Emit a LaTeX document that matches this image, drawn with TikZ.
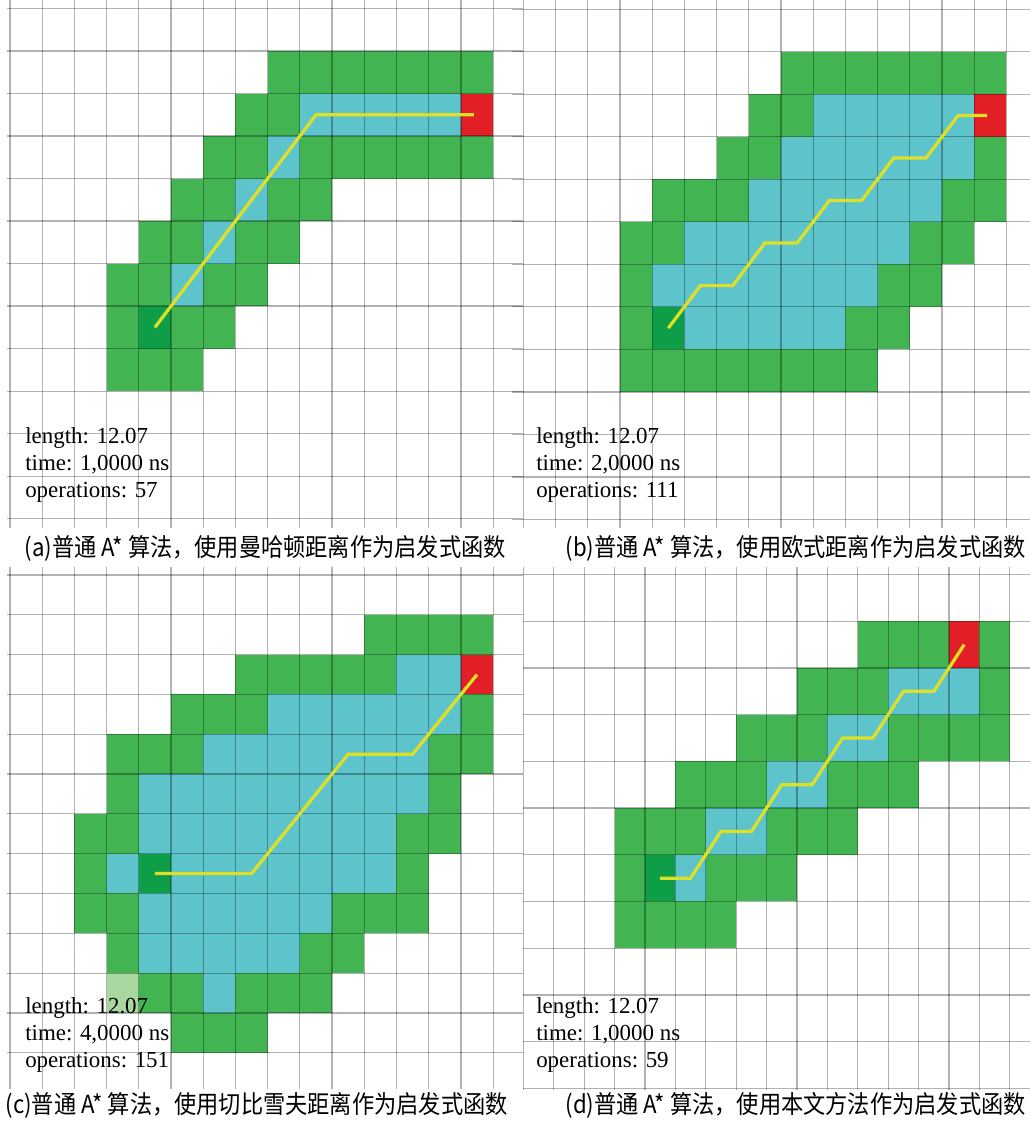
\documentclass[tikz,border=0pt]{standalone}
\usepackage{fontspec}
\setmainfont{Liberation Serif}
\newfontfamily\cjk{Noto Sans CJK SC}
\usetikzlibrary{positioning}
\definecolor{cellgreen}{RGB}{66,180,82}
\definecolor{cellcyan}{RGB}{94,196,204}
\definecolor{cellred}{RGB}{226,30,38}
\definecolor{startgreen}{RGB}{14,158,72}
\definecolor{palegreen}{RGB}{170,214,160}
\definecolor{pathyellow}{RGB}{222,224,40}
\tikzset{
  gridline/.style={draw=black,opacity=0.3,line width=0.85pt},
  route/.style={draw=pathyellow,line width=2.3pt},
  stats/.style={anchor=west,align=left,inner sep=0pt,font=\fontsize{16.3}{19.4}\selectfont},
  caption/.style={anchor=east,inner sep=0pt,font=\cjk\fontsize{15.8}{18}\selectfont}
}
\newcommand{\captext}[1]{\scalebox{1}[1.12]{#1}}

\begin{document}
\begin{tikzpicture}[x=0.025cm,y=-0.025cm]
\useasboundingbox (0,0) rectangle (1030,1126);

% (a)
\begin{scope}[shift={(10,8.5)},x=0.805cm,y=-1.0625cm]
\foreach \r/\a/\b/\c in {1/8/14/cellgreen,
  2/7/8/cellgreen,2/9/13/cellcyan,2/14/14/cellred,
  3/6/7/cellgreen,3/8/8/cellcyan,3/9/14/cellgreen,
  4/5/6/cellgreen,4/7/7/cellcyan,4/8/9/cellgreen,
  5/4/5/cellgreen,5/6/6/cellcyan,5/7/8/cellgreen,
  6/3/4/cellgreen,6/5/5/cellcyan,6/6/7/cellgreen,
  7/3/3/cellgreen,7/4/4/startgreen,7/5/6/cellgreen,
  8/3/5/cellgreen}
  \fill[fill=\c] (\a,\r) rectangle (\b+1,\r+1);
\foreach \i in {0,...,15} \draw[gridline] (\i,-0.2) -- (\i,12.22);
\foreach \j in {0,...,12} \draw[gridline] (-0.1,\j) -- (15.93,\j);
\draw[route] (4.5,7.5) -- (9.5,2.5) -- (14.4,2.5);
\end{scope}

% (b)
\begin{scope}[shift={(523.3,9.3)},x=0.805cm,y=-1.0625cm]
\foreach \r/\a/\b/\c in {1/8/14/cellgreen,
  2/7/8/cellgreen,2/9/13/cellcyan,2/14/14/cellred,
  3/6/7/cellgreen,3/8/13/cellcyan,3/14/14/cellgreen,
  4/4/6/cellgreen,4/7/12/cellcyan,4/13/14/cellgreen,
  5/3/4/cellgreen,5/5/11/cellcyan,5/12/13/cellgreen,
  6/3/3/cellgreen,6/4/10/cellcyan,6/11/12/cellgreen,
  7/3/3/cellgreen,7/4/4/startgreen,7/5/9/cellcyan,7/10/11/cellgreen,
  8/3/10/cellgreen}
  \fill[fill=\c] (\a,\r) rectangle (\b+1,\r+1);
\foreach \i in {0,...,15} \draw[gridline] (\i,-0.22) -- (\i,12.2);
\foreach \j in {0,...,12} \draw[gridline] (-0.35,\j) -- (15.74,\j);
\draw[route] (4.5,7.5) -- (5.5,6.5) -- (6.5,6.5) -- (7.5,5.5) -- (8.5,5.5)
  -- (9.5,4.5) -- (10.5,4.5) -- (11.5,3.5) -- (12.5,3.5) -- (13.5,2.5) -- (14.4,2.5);
\end{scope}

% (c)
\begin{scope}[shift={(10,575)},x=0.805cm,y=-0.995cm]
\foreach \r/\a/\b/\c in {1/11/14/cellgreen,
  2/7/11/cellgreen,2/12/13/cellcyan,2/14/14/cellred,
  3/5/7/cellgreen,3/8/13/cellcyan,3/14/14/cellgreen,
  4/3/5/cellgreen,4/6/12/cellcyan,4/13/14/cellgreen,
  5/3/3/cellgreen,5/4/12/cellcyan,5/13/13/cellgreen,
  6/2/3/cellgreen,6/4/11/cellcyan,6/12/13/cellgreen,
  7/2/2/cellgreen,7/3/3/cellcyan,7/4/4/startgreen,7/5/11/cellcyan,7/12/12/cellgreen,
  8/2/3/cellgreen,8/4/9/cellcyan,8/10/12/cellgreen,
  9/3/3/cellgreen,9/4/8/cellcyan,9/9/10/cellgreen,
  10/3/3/palegreen,10/4/5/cellgreen,10/6/6/cellcyan,10/7/9/cellgreen,
  11/5/7/cellgreen}
  \fill[fill=\c] (\a,\r) rectangle (\b+1,\r+1);
\foreach \i in {0,...,15} \draw[gridline] (\i,-0.2) -- (\i,12.9);
\foreach \j in {0,...,12} \draw[gridline] (-0.1,\j) -- (15.93,\j);
\draw[route] (4.5,7.5) -- (7.5,7.5) -- (10.5,4.5) -- (12.5,4.5) -- (14.5,2.5);
\end{scope}

% (d)
\begin{scope}[shift={(523.3,574.5)},x=0.76cm,y=-1.1675cm]
\foreach \r/\a/\b/\c in {1/11/13/cellgreen,1/14/14/cellred,1/15/15/cellgreen,
  2/9/11/cellgreen,2/12/14/cellcyan,2/15/15/cellgreen,
  3/7/9/cellgreen,3/10/11/cellcyan,3/12/15/cellgreen,
  4/5/7/cellgreen,4/8/9/cellcyan,4/10/12/cellgreen,
  5/3/5/cellgreen,5/6/7/cellcyan,5/8/10/cellgreen,
  6/3/3/cellgreen,6/4/4/startgreen,6/5/5/cellcyan,6/6/8/cellgreen,
  7/3/6/cellgreen}
  \fill[fill=\c] (\a,\r) rectangle (\b+1,\r+1);
\foreach \i in {0,...,16} \draw[gridline] (\i,-0.16) -- (\i,11.04);
\foreach \j in {0,...,11} \draw[gridline] (0,\j) -- (16.67,\j);
\draw[route] (4.5,6.5) -- (5.5,6.5) -- (6.5,5.5) -- (7.5,5.5) -- (8.5,4.5) -- (9.5,4.5)
  -- (10.5,3.5) -- (11.5,3.5) -- (12.5,2.5) -- (13.5,2.5) -- (14.5,1.5);
\end{scope}

\node[stats] (statsA) at (25,465) {length: 12.07\\time: 1,0000 ns\\operations: 57};
\node[stats] (statsB) at (536,465) {length: 12.07\\time: 2,0000 ns\\operations: 111};
\node[stats] (statsC) at (25,1035) {length: 12.07\\time: 4,0000 ns\\operations: 151};
\node[stats] (statsD) at (536,1035) {length: 12.07\\time: 1,0000 ns\\operations: 59};

\node[caption] (capA) at (506,548) {\captext{(a)普通 A* 算法，使用曼哈顿距离作为启发式函数}};
\node[caption] (capB) at (1026,548) {\captext{(b)普通 A* 算法，使用欧式距离作为启发式函数}};
\node[caption] (capC) at (508,1105) {\captext{(c)普通 A* 算法，使用切比雪夫距离作为启发式函数}};
\node[caption] (capD) at (1026,1105) {\captext{(d)普通 A* 算法，使用本文方法作为启发式函数}};
\end{tikzpicture}
\end{document}
